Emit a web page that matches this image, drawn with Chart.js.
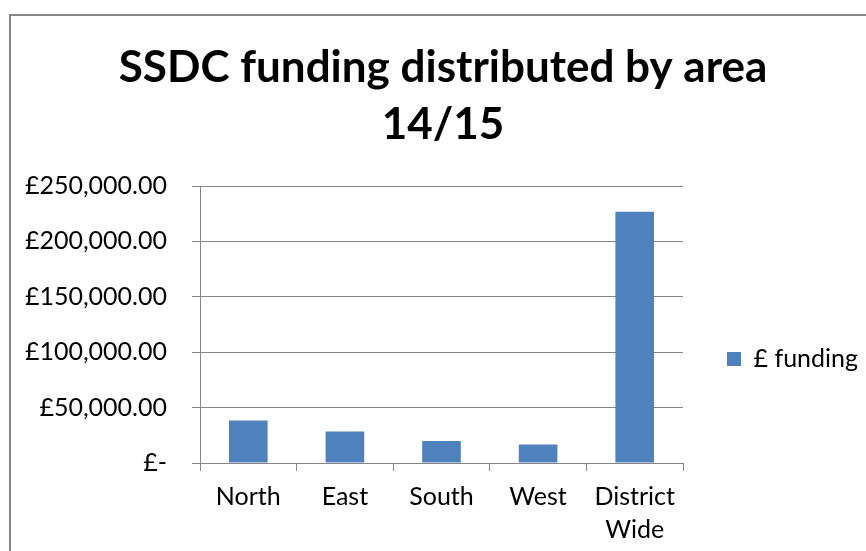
<!DOCTYPE html>
<html><head><meta charset="utf-8">
<script src="https://cdn.jsdelivr.net/npm/chart.js@4"></script>
<style>
html,body{margin:0;padding:0;background:#fff;overflow:hidden;}
#wrap{position:relative;width:866px;height:551px;overflow:hidden;}
#frame{position:absolute;left:9px;top:14px;width:900px;height:600px;border-left:2px solid #868686;border-top:2px solid #868686;box-sizing:border-box;}
canvas{position:absolute;left:0;top:0;}
</style></head><body>
<div id="wrap"><div id="frame"></div><canvas id="c" width="866" height="551"></canvas></div>
<script>
const categories = [['North'], ['East'], ['South'], ['West'], ['District', 'Wide']];
const fundingValues = [38400, 28500, 19800, 16800, 226700];
const yTickValues = [0, 50000, 100000, 150000, 200000, 250000];
const yTickLabels = ['£-', '£50,000.00', '£100,000.00', '£150,000.00', '£200,000.00', '£250,000.00'];
const seriesName = '£ funding';
const titleLines = ['SSDC funding distributed by area', '14/15'];

const FONT = 'Lato';
const tickSize = 25;
const legendPad = 44;
const boxW = 14;

const mctx = document.createElement('canvas').getContext('2d');
mctx.font = tickSize + 'px ' + FONT;
const textW = mctx.measureText(seriesName).width;
const naturalLegendW = legendPad + boxW + tickSize / 2 + textW + 10;
const padRight = Math.max(0, 183 - naturalLegendW);
const padLeft = 20 + padRight;

new Chart(document.getElementById('c'), {
  type: 'bar',
  data: {
    labels: categories,
    datasets: [{
      label: seriesName,
      data: fundingValues,
      backgroundColor: '#4F81BD',
      borderWidth: 0,
      barPercentage: 0.4,
      categoryPercentage: 1.0
    }]
  },
  options: {
    responsive: false,
    animation: false,
    layout: { padding: { left: padLeft, right: padRight, top: 0, bottom: 0 } },
    plugins: {
      tooltip: { enabled: false },
      title: {
        display: true,
        text: titleLines,
        color: '#000',
        font: { family: FONT, size: 44, weight: 'bold', lineHeight: 57 / 44 },
        padding: { top: 39.5, bottom: 32.5 }
      },
      legend: {
        display: true,
        position: 'right',
        align: 'start',
        maxWidth: 183,
        title: { display: true, text: ' ', font: { size: 10, lineHeight: 1 }, padding: { top: 292.5, bottom: 0 } },
        labels: {
          color: '#000',
          font: { family: FONT, size: tickSize },
          boxWidth: boxW,
          boxHeight: 14,
          padding: legendPad
        }
      }
    },
    scales: {
      x: {
        offset: true,
        grid: { display: true, drawOnChartArea: false, drawTicks: true, tickLength: 8, color: '#868686', lineWidth: 1, offset: true },
        border: { display: true, color: '#868686', width: 1 },
        ticks: { color: '#000', font: { family: FONT, size: tickSize, lineHeight: 1.32 }, padding: 9.5, maxRotation: 0, autoSkip: false },
        afterFit: (s) => { s.height = 88; }
      },
      y: {
        min: 0,
        max: 250000,
        grid: { color: '#868686', lineWidth: 1, drawTicks: true, tickLength: 8 },
        border: { display: true, color: '#868686', width: 1 },
        ticks: {
          stepSize: 50000,
          color: '#000',
          font: { family: FONT, size: tickSize, lineHeight: 1.32 },
          padding: 25,
          callback: (v) => { const i = yTickValues.indexOf(v); return i >= 0 ? yTickLabels[i] : ''; }
        },
        afterFit: (s) => { s.width = 200 - padLeft; }
      }
    }
  }
});
</script>
</body></html>
